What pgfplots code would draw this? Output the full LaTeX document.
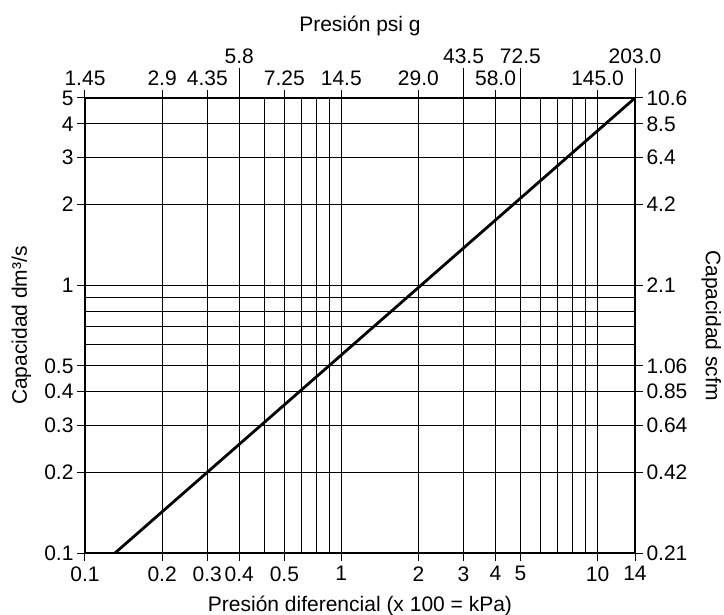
\documentclass[border=0pt]{standalone}
\usepackage{fontspec}
\setmainfont{Liberation Sans}
\usepackage{pgfplots}
\pgfplotsset{compat=1.18}

\newcommand\chartfont{\fontsize{21bp}{25bp}\selectfont}

\begin{document}
\begin{tikzpicture}
  % grid lines
  \begin{axis}[
      scale only axis, width=550bp, height=455bp,
      xmode=log, ymode=log,
      xmin=0.1, xmax=14, ymin=0.1, ymax=5,
      axis line style={draw=none},
      xtick={0.1,0.2,0.3,0.4,0.5,0.6,0.7,0.8,0.9,1,2,3,4,5,6,7,8,9,10,14},
      ytick={0.1,0.2,0.3,0.4,0.5,0.6,0.7,0.8,0.9,1,2,3,4,5},
      xticklabels={}, yticklabels={},
      major tick length=0pt, minor tick length=0pt,
      grid=major, major grid style={black, line width=1bp}]
  \end{axis}

  % main axis: kPa x 100 and dm3/s
  \begin{axis}[name=main,
      scale only axis, width=550bp, height=455bp,
      xmode=log, ymode=log,
      xmin=0.1, xmax=14, ymin=0.1, ymax=5,
      tick label style={font=\chartfont},
      label style={font=\chartfont},
      tick style={black, line width=1bp},
      tick align=outside,
      major tick length=8bp, minor tick length=0pt,
      axis line style={line width=2.8bp},
      tick pos=left,
      xtick={0.1,0.2,0.3,0.4,0.6,1,2,3,4,5,10,14},
      xticklabels={0.1,0.2,0.3,0.4,0.5,1,2,3,4,5,10,14},
      xticklabel shift=2bp,
      ytick={0.1,0.2,0.3,0.4,0.5,1,2,3,4,5},
      yticklabels={0.1,0.2,0.3,0.4,0.5,1,2,3,4,5},
      xlabel={Presión diferencial (x 100 = kPa)},
      ylabel={Capacidad dm³/s},
      x label style={at={(axis description cs:0.5,-0.1275)}, anchor=base},
      y label style={at={(axis description cs:-0.1055,0.5)}, anchor=base},
    ]
    \addplot[black, line width=2.8bp, no marks] coordinates {(0.131,0.1) (14,5)};
  \end{axis}

  % right axis: scfm
  \begin{axis}[
      scale only axis, width=550bp, height=455bp,
      xmode=log, ymode=log,
      xmin=0.1, xmax=14, ymin=0.1, ymax=5,
      tick label style={font=\chartfont},
      label style={font=\chartfont},
      tick style={black, line width=1bp},
      tick align=outside,
      major tick length=8bp, minor tick length=0pt,
      axis line style={draw=none},
      ytick pos=right, yticklabel pos=right, xtick=\empty,
      ytick={0.1,0.2,0.3,0.4,0.5,1,2,3,4,5},
      yticklabels={0.21,0.42,0.64,0.85,1.06,2.1,4.2,6.4,8.5,10.6},
      ylabel={Capacidad scfm},
      y label style={at={(axis description cs:1.129,0.5)}, anchor=base, rotate=-180},
    ]
  \end{axis}

  % top axis, lower row of psi labels
  \begin{axis}[
      scale only axis, width=550bp, height=455bp,
      xmode=log, ymode=log,
      xmin=0.1, xmax=14, ymin=0.1, ymax=5,
      tick label style={font=\chartfont},
      tick style={black, line width=1bp},
      tick align=outside,
      major tick length=8bp, minor tick length=0pt,
      axis line style={draw=none},
      xtick pos=right, xticklabel pos=right, ytick=\empty,
      xtick={0.1,0.2,0.3,0.6,1,2,4,10},
      xticklabels={1.45,2.9,4.35,7.25,14.5,29.0,58.0,145.0},
      xticklabel shift=0.5bp,
    ]
  \end{axis}

  % top axis, raised row of psi labels
  \begin{axis}[
      scale only axis, width=550bp, height=455bp,
      xmode=log, ymode=log,
      xmin=0.1, xmax=14, ymin=0.1, ymax=5,
      tick label style={font=\chartfont},
      label style={font=\chartfont},
      tick style={black, line width=1bp},
      tick align=outside,
      major tick length=30bp, minor tick length=0pt,
      axis line style={draw=none},
      xtick pos=right, xticklabel pos=right, ytick=\empty,
      xtick={0.4,3,5,14},
      xticklabels={5.8,43.5,72.5,203.0},
      xticklabel shift=0.5bp,
      xlabel={Presión psi g},
      x label style={at={(axis description cs:0.5,1.1451)}, anchor=base},
    ]
  \end{axis}

  \pgfresetboundingbox
  \path ([xshift=-85bp,yshift=-62bp]main.south west) rectangle ([xshift=89bp,yshift=98bp]main.north east);
\end{tikzpicture}
\end{document}
